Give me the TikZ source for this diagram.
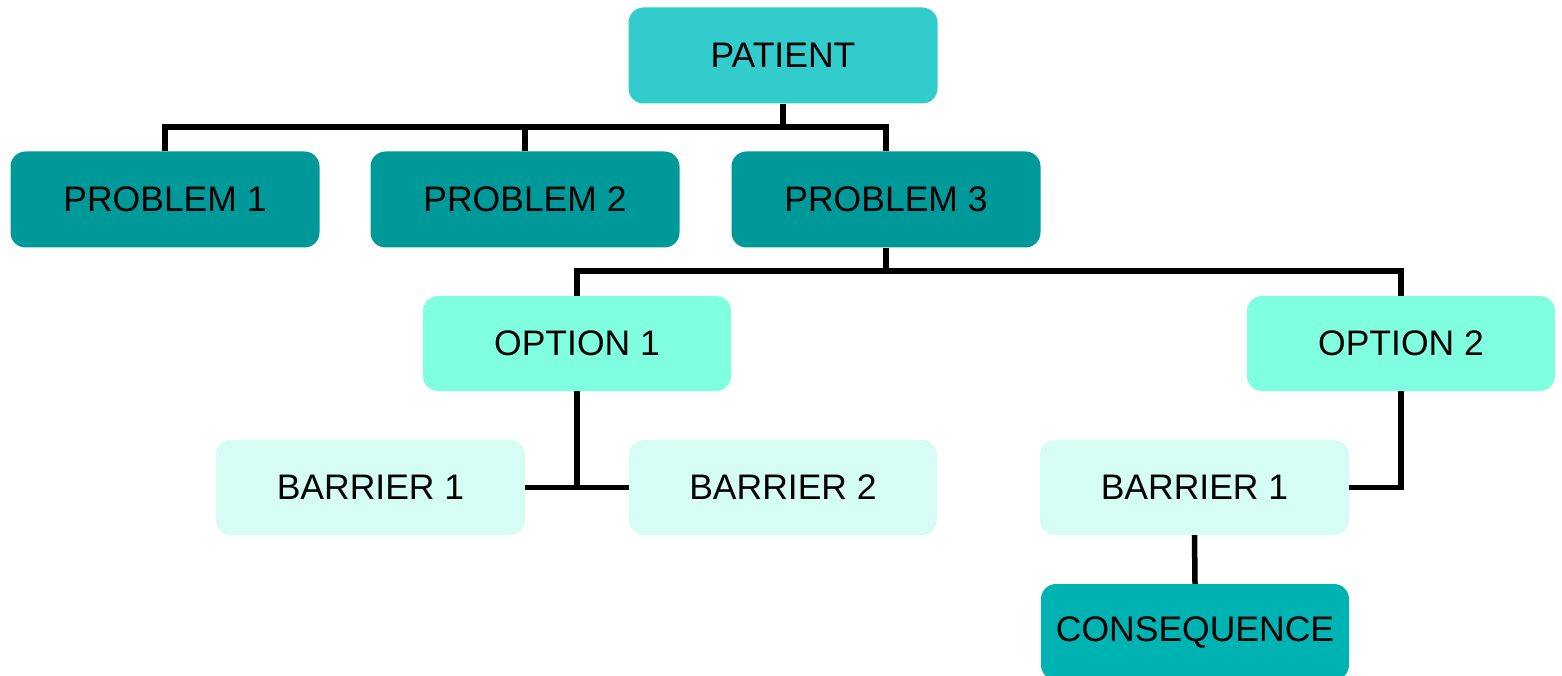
\documentclass[tikz,border=0pt]{standalone}
\usepackage{fontspec}
\setmainfont{Liberation Sans}
\definecolor{cpatient}{HTML}{33CCCC}
\definecolor{cproblem}{HTML}{009999}
\definecolor{coption}{HTML}{7FFFDF}
\definecolor{cbarrier}{HTML}{D5FDF3}
\definecolor{cconseq}{HTML}{00B3B3}
\begin{document}
\begin{tikzpicture}[x=1pt,y=-1pt,
  box/.style={rounded corners=15pt, minimum width=309pt, minimum height=96pt, inner sep=0pt,
    font=\fontsize{35.5}{40}\selectfont, text=black},
  link/.style={draw=black, line width=5.5pt}]
\useasboundingbox (0,0) rectangle (1562,676);
\begin{scope}
\clip (0,0) rectangle (1562,676);
\node[box, fill=cpatient] (pat) at (783,55.5) {PATIENT};
\node[box, fill=cproblem] (p1) at (165,199.5) {PROBLEM 1};
\node[box, fill=cproblem] (p2) at (525,199.5) {PROBLEM 2};
\node[box, fill=cproblem] (p3) at (886,199.5) {PROBLEM 3};
\node[box, fill=coption, minimum height=95pt, minimum width=308pt] (o1) at (577,343.5) {OPTION 1};
\node[box, fill=coption, minimum height=95pt, minimum width=308pt] (o2) at (1401,343.5) {OPTION 2};
\node[box, fill=cbarrier, minimum height=95pt] (b1) at (370.5,487.5) {BARRIER 1};
\node[box, fill=cbarrier, minimum height=95pt, minimum width=308pt] (b2) at (783,487.5) {BARRIER 2};
\node[box, fill=cbarrier, minimum height=95pt] (b3) at (1194.5,487.5) {BARRIER 1};
\node[box, fill=cconseq, minimum height=96pt, minimum width=308pt] (c) at (1195,632) {CONSEQUENCE};
\coordinate (j1) at (783,127);
\coordinate (j2) at (886,271);
\coordinate (j3) at (577,488);
\draw[link] (pat.south) -- (j1);
\draw[link] (p1.north) |- (j1) -| (p3.north);
\draw[link] (p2.north) -- (p2.north |- j1);
\draw[link] (p3.south) -- (j2);
\draw[link] (o1.north) |- (j2) -| (o2.north);
\draw[link] (o1.south) -- (j3);
\draw[link] (b1.east) -- (b2.west);
\draw[link] (o2.south) |- (b3.east);
\draw[link] (b3.south) -- (c.north);
\end{scope}
\end{tikzpicture}
\end{document}
